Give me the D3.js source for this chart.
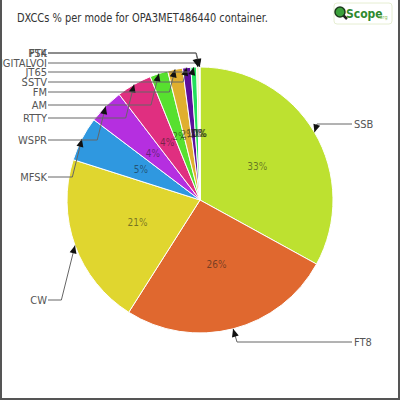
<!DOCTYPE html>
<html><head><meta charset="utf-8">
<script src="https://cdn.jsdelivr.net/npm/d3@7"></script>
<style>html,body{margin:0;padding:0;background:#fff;}svg{display:block;}</style>
</head><body>
<script>
const categories = ["SSB","FT8","CW","MFSK","WSPR","RTTY","AM","FM","SSTV","JT65","DIGITALVOI","FT4","PSK"];
const shares = [33.0,26.0,20.9,5.4,4.3,4.3,2.2,1.8,1.0,0.7,0.3,0.05,0.05];
const colors = ["#bde130","#e0682f","#e0d62f","#2f98e0","#b52fe0","#e02f80","#57e02f","#e0af2f","#5d0f9c","#22e05c","#f2f2b0","#e8f7c8","#f7f7d8"];
const titleText = "DXCCs % per mode for OPA3MET486440 container.";
// callout row layout (label line y, pixels) - layout only
const calloutY = [124,342,300,177,140,118,105,92,82,72,63,53,53];

const W=400,H=400,cx=200,cy=200,R=133;
const svg=d3.select("body").append("svg").attr("width",W).attr("height",H);
svg.append("rect").attr("width",W).attr("height",H).attr("fill","#fff");
const font="'DejaVu Sans Condensed','DejaVu Sans',sans-serif";

svg.append("text").attr("x",17).attr("y",22).attr("font-family",font).attr("font-size",11.5)
  .attr("fill","#333").attr("textLength",251).attr("lengthAdjust","spacingAndGlyphs").text(titleText);

// logo
const lg=svg.append("g");
lg.append("rect").attr("x",334).attr("y",3).attr("width",58).attr("height",21).attr("rx",3)
  .attr("fill","#fff").attr("stroke","#e6eed2");
lg.append("line").attr("x1",342).attr("y1",14).attr("x2",347).attr("y2",19).attr("stroke","#222").attr("stroke-width",2.5);
lg.append("circle").attr("cx",340).attr("cy",12).attr("r",5).attr("fill","#3aa03a").attr("stroke","#1c3a1c").attr("stroke-width",1.5);
lg.append("text").attr("x",346).attr("y",18).attr("font-family",font).attr("font-weight","bold").attr("font-size",12)
  .attr("fill","#2f8a2f").text("Scope");
lg.append("text").attr("x",378).attr("y",19).attr("font-family",font).attr("font-size",5.5).attr("fill","#8cc060").text(".org");

const data=categories.map((c,i)=>({cat:c,v:shares[i],color:colors[i],ly:calloutY[i]}));
const pie=d3.pie().sort(null).value(d=>d.v).startAngle(0).endAngle(2*Math.PI);
const arcs=pie(data);
const arc=d3.arc().innerRadius(0).outerRadius(R);
const g=svg.append("g").attr("transform",`translate(${cx},${cy})`);
g.selectAll("path.s").data(arcs).join("path").attr("class","s").attr("d",arc)
  .attr("fill",d=>d.data.color).attr("stroke","#fff").attr("stroke-width",1);

const total=d3.sum(shares);
const fmt=d3.format(".0%");
const labArc=d3.arc().innerRadius(0).outerRadius(R);
g.selectAll("text.p").data(arcs).join("text").attr("class","p")
  .attr("transform",d=>`translate(${labArc.centroid(d)})`)
  .attr("text-anchor","middle").attr("dy","0.35em")
  .attr("font-family",font).attr("font-size",10).attr("fill","#1a1a1a").attr("fill-opacity",0.55)
  .text(d=>fmt(Math.round(d.data.v)/100));

// callouts
const cg=svg.append("g");
arcs.forEach(d=>{
  const a=(d.startAngle+d.endAngle)/2;
  const tx=cx+R*Math.sin(a), ty=cy-R*Math.cos(a);
  const right=Math.sin(a)>0.0001 && a<Math.PI*1.5;
  const ly=d.data.ly;
  const dy=Math.abs(ly-ty);
  const ex=right? tx+0.3*dy : tx-0.25*dy;
  const lx=right? 352 : 48;
  cg.append("polyline").attr("points",`${lx},${ly} ${ex},${ly} ${tx},${ty}`)
    .attr("fill","none").attr("stroke","#666").attr("stroke-width",1);
  // arrow head
  let ux=tx-ex, uy=ty-ly; const L=Math.hypot(ux,uy)||1; ux/=L; uy/=L;
  const hl=8, hw=3.5;
  const bx=tx-ux*hl, by=ty-uy*hl;
  cg.append("path").attr("d",`M${tx},${ty}L${bx-uy*hw},${by+ux*hw}L${bx+uy*hw},${by-ux*hw}Z`).attr("fill","#111");
  cg.append("text").attr("x",right?354:47).attr("y",ly).attr("dy","0.35em")
    .attr("text-anchor",right?"start":"end").attr("font-family",font).attr("font-size",11)
    .attr("fill","#555").text(d.data.cat);
});

// frame
svg.append("path").attr("d","M1,0V399H399V0").attr("fill","none").attr("stroke","#555").attr("stroke-width",2);
</script>
</body></html>
